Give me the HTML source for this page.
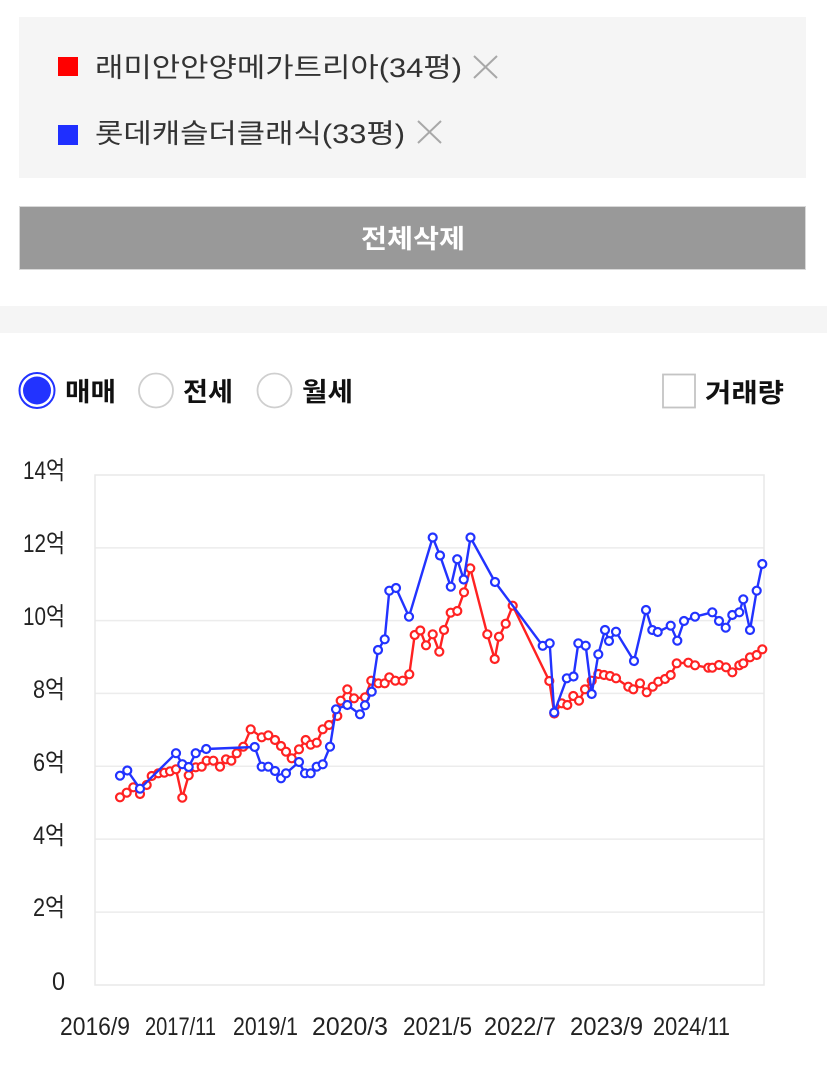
<!DOCTYPE html>
<html>
<head>
<meta charset="utf-8">
<style>
html,body{margin:0;padding:0;background:#fff;}
svg{display:block;}
text{font-family:"Liberation Sans","Noto Sans CJK KR",sans-serif;}
</style>
</head>
<body>
<svg width="827" height="1070" viewBox="0 0 827 1070" xmlns="http://www.w3.org/2000/svg">
  <!-- top legend box -->
  <rect x="19" y="17" width="787" height="161" fill="#f5f5f5"/>
  <rect x="58" y="57" width="20" height="19" fill="#ff0000"/>
  <text x="95" y="77" font-size="27" fill="#333" textLength="367" lengthAdjust="spacingAndGlyphs">래미안안양메가트리아(34평)</text>
  <g stroke="#a8a8a8" stroke-width="2">
    <line x1="474" y1="56" x2="497" y2="78"/>
    <line x1="497" y1="56" x2="474" y2="78"/>
  </g>
  <rect x="58" y="125" width="20" height="20" fill="#1f2fff"/>
  <text x="95" y="143" font-size="27" fill="#333" textLength="310" lengthAdjust="spacingAndGlyphs">롯데캐슬더클래식(33평)</text>
  <g stroke="#a8a8a8" stroke-width="2">
    <line x1="418" y1="121" x2="441" y2="143"/>
    <line x1="441" y1="121" x2="418" y2="143"/>
  </g>

  <!-- delete all button -->
  <rect x="19.5" y="206.5" width="786" height="63" fill="#999999" stroke="#d8d8d8" stroke-width="1"/>
  <text x="413" y="248" font-size="26" font-weight="700" fill="#fff" text-anchor="middle" textLength="104" lengthAdjust="spacingAndGlyphs">전체삭제</text>

  <!-- separator band -->
  <rect x="0" y="306" width="827" height="27" fill="#f5f5f5"/>

  <!-- radios -->
  <circle cx="37" cy="390.5" r="17.5" fill="#fff" stroke="#2233ff" stroke-width="2"/>
  <circle cx="37" cy="390.5" r="14" fill="#2233ff"/>
  <text x="65" y="401" font-size="26" font-weight="700" fill="#111" textLength="51" lengthAdjust="spacingAndGlyphs">매매</text>
  <circle cx="156" cy="390.5" r="17" fill="#fff" stroke="#cfcfcf" stroke-width="1.8"/>
  <text x="183" y="401" font-size="26" font-weight="700" fill="#111" textLength="50" lengthAdjust="spacingAndGlyphs">전세</text>
  <circle cx="274.5" cy="390.5" r="17" fill="#fff" stroke="#cfcfcf" stroke-width="1.8"/>
  <text x="302" y="401" font-size="26" font-weight="700" fill="#111" textLength="51" lengthAdjust="spacingAndGlyphs">월세</text>
  <rect x="663" y="374.5" width="32" height="33" fill="#fff" stroke="#c4c4c4" stroke-width="1.8"/>
  <text x="705" y="402" font-size="26" font-weight="700" fill="#111" textLength="79" lengthAdjust="spacingAndGlyphs">거래량</text>

  <!-- chart grid -->
  <g stroke="#ececec" stroke-width="1.5">
    <line x1="95" y1="547.9" x2="764" y2="547.9"/>
    <line x1="95" y1="620.6" x2="764" y2="620.6"/>
    <line x1="95" y1="693.4" x2="764" y2="693.4"/>
    <line x1="95" y1="766.3" x2="764" y2="766.3"/>
    <line x1="95" y1="839.1" x2="764" y2="839.1"/>
    <line x1="95" y1="912.1" x2="764" y2="912.1"/>
  </g>
  <rect x="95" y="475" width="669" height="510" fill="none" stroke="#e8e8e8" stroke-width="1.5"/>

  <!-- y labels -->
  <g font-size="25" fill="#222">
    <text x="23" y="479" textLength="42" lengthAdjust="spacingAndGlyphs">14억</text>
    <text x="23" y="552" textLength="42" lengthAdjust="spacingAndGlyphs">12억</text>
    <text x="23" y="625" textLength="42" lengthAdjust="spacingAndGlyphs">10억</text>
    <text x="33" y="698" textLength="32" lengthAdjust="spacingAndGlyphs">8억</text>
    <text x="33" y="771" textLength="32" lengthAdjust="spacingAndGlyphs">6억</text>
    <text x="33" y="844" textLength="32" lengthAdjust="spacingAndGlyphs">4억</text>
    <text x="33" y="916" textLength="32" lengthAdjust="spacingAndGlyphs">2억</text>
    <text x="52" y="990" textLength="13" lengthAdjust="spacingAndGlyphs">0</text>
  </g>

  <!-- x labels -->
  <g font-size="25" fill="#222">
    <text x="60" y="1035" textLength="70" lengthAdjust="spacingAndGlyphs">2016/9</text>
    <text x="145" y="1035" textLength="71" lengthAdjust="spacingAndGlyphs">2017/11</text>
    <text x="233" y="1035" textLength="65" lengthAdjust="spacingAndGlyphs">2019/1</text>
    <text x="312" y="1035" textLength="76" lengthAdjust="spacingAndGlyphs">2020/3</text>
    <text x="403" y="1035" textLength="69" lengthAdjust="spacingAndGlyphs">2021/5</text>
    <text x="484" y="1035" textLength="72" lengthAdjust="spacingAndGlyphs">2022/7</text>
    <text x="570" y="1035" textLength="73" lengthAdjust="spacingAndGlyphs">2023/9</text>
    <text x="653" y="1035" textLength="77" lengthAdjust="spacingAndGlyphs">2024/11</text>
  </g>

  <!-- red series -->
  <g id="red">
  <polyline fill="none" stroke="#ff2222" stroke-width="2.4" stroke-linejoin="round" points="120,797.3 126.7,792.7 133.3,787.3 140,794 146.7,785 151.7,776 158.3,773.3 164.3,772.7 170,771.3 176,769.3 182.3,797.7 188.7,775.3 195.7,767.3 201.7,766.7 206.7,760.7 213.3,760.7 220,766.7 226,759.3 231.3,760.7 236.7,753.3 243.3,746.7 250.7,729.3 261.7,737.3 268.3,735.3 275,740 281,746 286,751.7 291.7,758.3 299,749.3 305.7,740 310.7,744.7 316.7,742.7 322.7,729.3 329,725 337.3,716 340.7,700.7 347.3,689.3 354,698.3 365,697.3 371.3,680.7 378.3,683.3 384.7,683.3 389.3,677.3 395.3,680.7 402.7,680.7 409.3,674.3 414.7,635 420.3,630.5 426,645.3 432.7,634.3 439.3,651.7 444,630 450.7,612.7 457.3,611 464,592.3 470.3,568.3 487.3,634.3 494.7,659 499,636.7 505.7,623.7 512.7,605.7 549.3,681 554.3,713.5 561.7,703.3 567.3,705 573.3,696 579,700.7 585,689.3 591.7,680.7 598.3,674 604,675 610,676 616,678.3 628.3,686.7 633.3,689.3 640,683.3 646.7,692.3 652.7,686.7 658.3,681.7 665,679 670.7,675 676.7,663.3 688.3,662.7 695,665.3 708.3,667.7 712.3,667.7 719,665 726,667.3 732.3,672.3 739.3,665.3 743.3,663.3 750,657.3 756.7,655 762.3,649.3"/>
  <g fill="#fff" stroke="#ff2222" stroke-width="2.2">
    <circle cx="120" cy="797.3" r="4"/><circle cx="126.7" cy="792.7" r="4"/><circle cx="133.3" cy="787.3" r="4"/><circle cx="140" cy="794" r="4"/><circle cx="146.7" cy="785" r="4"/><circle cx="151.7" cy="776" r="4"/><circle cx="158.3" cy="773.3" r="4"/><circle cx="164.3" cy="772.7" r="4"/><circle cx="170" cy="771.3" r="4"/><circle cx="176" cy="769.3" r="4"/><circle cx="182.3" cy="797.7" r="4"/><circle cx="188.7" cy="775.3" r="4"/><circle cx="195.7" cy="767.3" r="4"/><circle cx="201.7" cy="766.7" r="4"/><circle cx="206.7" cy="760.7" r="4"/><circle cx="213.3" cy="760.7" r="4"/><circle cx="220" cy="766.7" r="4"/><circle cx="226" cy="759.3" r="4"/><circle cx="231.3" cy="760.7" r="4"/><circle cx="236.7" cy="753.3" r="4"/><circle cx="243.3" cy="746.7" r="4"/><circle cx="250.7" cy="729.3" r="4"/><circle cx="261.7" cy="737.3" r="4"/><circle cx="268.3" cy="735.3" r="4"/><circle cx="275" cy="740" r="4"/><circle cx="281" cy="746" r="4"/><circle cx="286" cy="751.7" r="4"/><circle cx="291.7" cy="758.3" r="4"/><circle cx="299" cy="749.3" r="4"/><circle cx="305.7" cy="740" r="4"/><circle cx="310.7" cy="744.7" r="4"/><circle cx="316.7" cy="742.7" r="4"/><circle cx="322.7" cy="729.3" r="4"/><circle cx="329" cy="725" r="4"/><circle cx="337.3" cy="716" r="4"/><circle cx="340.7" cy="700.7" r="4"/><circle cx="347.3" cy="689.3" r="4"/><circle cx="354" cy="698.3" r="4"/><circle cx="365" cy="697.3" r="4"/><circle cx="371.3" cy="680.7" r="4"/><circle cx="378.3" cy="683.3" r="4"/><circle cx="384.7" cy="683.3" r="4"/><circle cx="389.3" cy="677.3" r="4"/><circle cx="395.3" cy="680.7" r="4"/><circle cx="402.7" cy="680.7" r="4"/><circle cx="409.3" cy="674.3" r="4"/><circle cx="414.7" cy="635" r="4"/><circle cx="420.3" cy="630.5" r="4"/><circle cx="426" cy="645.3" r="4"/><circle cx="432.7" cy="634.3" r="4"/><circle cx="439.3" cy="651.7" r="4"/><circle cx="444" cy="630" r="4"/><circle cx="450.7" cy="612.7" r="4"/><circle cx="457.3" cy="611" r="4"/><circle cx="464" cy="592.3" r="4"/><circle cx="470.3" cy="568.3" r="4"/><circle cx="487.3" cy="634.3" r="4"/><circle cx="494.7" cy="659" r="4"/><circle cx="499" cy="636.7" r="4"/><circle cx="505.7" cy="623.7" r="4"/><circle cx="512.7" cy="605.7" r="4"/><circle cx="549.3" cy="681" r="4"/><circle cx="554.3" cy="713.5" r="4"/><circle cx="561.7" cy="703.3" r="4"/><circle cx="567.3" cy="705" r="4"/><circle cx="573.3" cy="696" r="4"/><circle cx="579" cy="700.7" r="4"/><circle cx="585" cy="689.3" r="4"/><circle cx="591.7" cy="680.7" r="4"/><circle cx="598.3" cy="674" r="4"/><circle cx="604" cy="675" r="4"/><circle cx="610" cy="676" r="4"/><circle cx="616" cy="678.3" r="4"/><circle cx="628.3" cy="686.7" r="4"/><circle cx="633.3" cy="689.3" r="4"/><circle cx="640" cy="683.3" r="4"/><circle cx="646.7" cy="692.3" r="4"/><circle cx="652.7" cy="686.7" r="4"/><circle cx="658.3" cy="681.7" r="4"/><circle cx="665" cy="679" r="4"/><circle cx="670.7" cy="675" r="4"/><circle cx="676.7" cy="663.3" r="4"/><circle cx="688.3" cy="662.7" r="4"/><circle cx="695" cy="665.3" r="4"/><circle cx="708.3" cy="667.7" r="4"/><circle cx="712.3" cy="667.7" r="4"/><circle cx="719" cy="665" r="4"/><circle cx="726" cy="667.3" r="4"/><circle cx="732.3" cy="672.3" r="4"/><circle cx="739.3" cy="665.3" r="4"/><circle cx="743.3" cy="663.3" r="4"/><circle cx="750" cy="657.3" r="4"/><circle cx="756.7" cy="655" r="4"/><circle cx="762.3" cy="649.3" r="4"/>
  </g>
  </g>

  <!-- blue series -->
  <g id="blue">
  <polyline fill="none" stroke="#2233ff" stroke-width="2.4" stroke-linejoin="round" points="120,775.7 127.3,770.5 140,788.7 176,753.2 182.3,764.2 188.7,767 195.7,753.2 206.2,749 254.7,747 261.7,766.7 268.3,766.7 275,771 281,778.3 286,773.3 299,762 305,773.3 310.7,773.3 316.7,766.7 322.7,764.3 330,746.7 336,709.3 347.3,705 360,714.3 365,705.3 371.7,691.7 378,650 384.7,639.3 389.3,590.7 396,588 409,616.7 432.7,537.5 440,555.5 450.8,586.7 457.2,559.2 463.7,579.5 470.5,537.5 495,582 542.7,645.8 549.7,643.3 554.2,712.5 566.8,678.3 573.5,676.5 578.3,643.3 585.7,645.7 591.7,694 598.3,654.3 605,630 609,641 616,631.7 634,661 646,610 652.3,630 657.7,632 670.7,625.7 677.3,640.7 684,621 695,616.7 712.3,612.3 719,621 725.7,627.7 732.3,615 739.3,612.3 743.3,599.3 750,630 756.7,590.7 762.3,564"/>
  <g fill="#fff" stroke="#2233ff" stroke-width="2.2">
    <circle cx="120" cy="775.7" r="4"/><circle cx="127.3" cy="770.5" r="4"/><circle cx="140" cy="788.7" r="4"/><circle cx="176" cy="753.2" r="4"/><circle cx="182.3" cy="764.2" r="4"/><circle cx="188.7" cy="767" r="4"/><circle cx="195.7" cy="753.2" r="4"/><circle cx="206.2" cy="749" r="4"/><circle cx="254.7" cy="747" r="4"/><circle cx="261.7" cy="766.7" r="4"/><circle cx="268.3" cy="766.7" r="4"/><circle cx="275" cy="771" r="4"/><circle cx="281" cy="778.3" r="4"/><circle cx="286" cy="773.3" r="4"/><circle cx="299" cy="762" r="4"/><circle cx="305" cy="773.3" r="4"/><circle cx="310.7" cy="773.3" r="4"/><circle cx="316.7" cy="766.7" r="4"/><circle cx="322.7" cy="764.3" r="4"/><circle cx="330" cy="746.7" r="4"/><circle cx="336" cy="709.3" r="4"/><circle cx="347.3" cy="705" r="4"/><circle cx="360" cy="714.3" r="4"/><circle cx="365" cy="705.3" r="4"/><circle cx="371.7" cy="691.7" r="4"/><circle cx="378" cy="650" r="4"/><circle cx="384.7" cy="639.3" r="4"/><circle cx="389.3" cy="590.7" r="4"/><circle cx="396" cy="588" r="4"/><circle cx="409" cy="616.7" r="4"/><circle cx="432.7" cy="537.5" r="4"/><circle cx="440" cy="555.5" r="4"/><circle cx="450.8" cy="586.7" r="4"/><circle cx="457.2" cy="559.2" r="4"/><circle cx="463.7" cy="579.5" r="4"/><circle cx="470.5" cy="537.5" r="4"/><circle cx="495" cy="582" r="4"/><circle cx="542.7" cy="645.8" r="4"/><circle cx="549.7" cy="643.3" r="4"/><circle cx="554.2" cy="712.5" r="4"/><circle cx="566.8" cy="678.3" r="4"/><circle cx="573.5" cy="676.5" r="4"/><circle cx="578.3" cy="643.3" r="4"/><circle cx="585.7" cy="645.7" r="4"/><circle cx="591.7" cy="694" r="4"/><circle cx="598.3" cy="654.3" r="4"/><circle cx="605" cy="630" r="4"/><circle cx="609" cy="641" r="4"/><circle cx="616" cy="631.7" r="4"/><circle cx="634" cy="661" r="4"/><circle cx="646" cy="610" r="4"/><circle cx="652.3" cy="630" r="4"/><circle cx="657.7" cy="632" r="4"/><circle cx="670.7" cy="625.7" r="4"/><circle cx="677.3" cy="640.7" r="4"/><circle cx="684" cy="621" r="4"/><circle cx="695" cy="616.7" r="4"/><circle cx="712.3" cy="612.3" r="4"/><circle cx="719" cy="621" r="4"/><circle cx="725.7" cy="627.7" r="4"/><circle cx="732.3" cy="615" r="4"/><circle cx="739.3" cy="612.3" r="4"/><circle cx="743.3" cy="599.3" r="4"/><circle cx="750" cy="630" r="4"/><circle cx="756.7" cy="590.7" r="4"/><circle cx="762.3" cy="564" r="4"/>
  </g>
  </g>
</svg>
</body>
</html>
